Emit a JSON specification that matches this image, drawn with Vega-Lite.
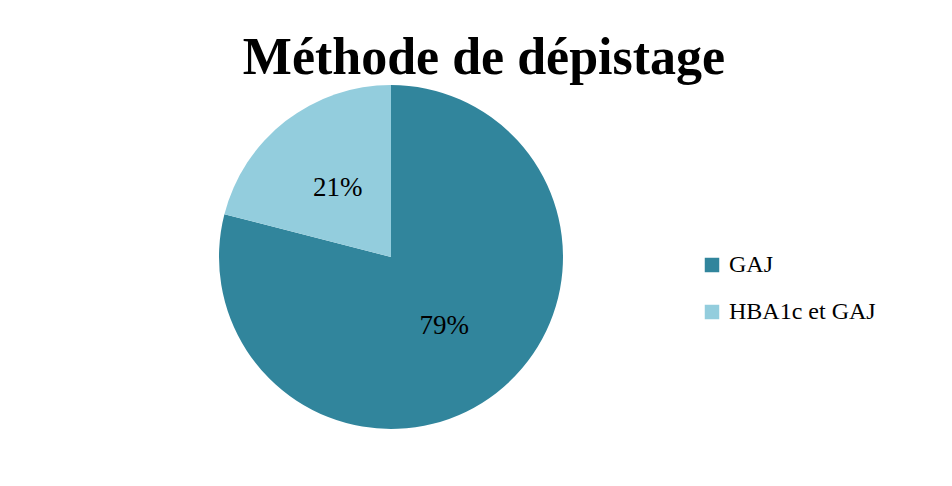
{
  "$schema": "https://vega.github.io/schema/vega-lite/v6.json",
  "autosize": "none",
  "padding": {"left": 219, "top": 85, "right": 389, "bottom": 57},
  "width": 344,
  "height": 344,
  "background": "white",
  "title": {
    "text": "Méthode de dépistage",
    "font": "Liberation Serif",
    "fontSize": 52,
    "fontWeight": "bold",
    "color": "black",
    "anchor": "middle",
    "dx": 93,
    "offset": 0
  },
  "data": {
    "values": [
      {"methode": "GAJ", "pct": 79, "label": "79%", "ordre": 1},
      {"methode": "HBA1c et GAJ", "pct": 21, "label": "21%", "ordre": 2}
    ]
  },
  "encoding": {
    "theta": {"field": "pct", "type": "quantitative", "stack": true},
    "order": {"field": "ordre", "type": "ordinal"}
  },
  "layer": [
    {
      "mark": {"type": "arc", "outerRadius": 172, "stroke": null},
      "encoding": {
        "color": {
          "field": "methode",
          "type": "nominal",
          "sort": ["GAJ", "HBA1c et GAJ"],
          "scale": {"domain": ["GAJ", "HBA1c et GAJ"], "range": ["#31859C", "#93CDDD"]},
          "legend": {
            "title": null,
            "orient": "none",
            "legendX": 481,
            "legendY": 168,
            "symbolType": "square",
            "symbolSize": 210,
            "symbolStrokeWidth": 0,
            "labelFont": "Liberation Serif",
            "labelFontSize": 24,
            "labelColor": "black",
            "labelOffset": 5,
            "rowPadding": 23,
            "labelLimit": 300
          }
        }
      }
    },
    {
      "mark": {"type": "text", "radius": 87, "font": "Liberation Serif", "fontSize": 27, "color": "black", "baseline": "middle", "align": "center"},
      "encoding": {
        "text": {"field": "label", "type": "nominal"}
      }
    }
  ],
  "config": {"view": {"stroke": null}}
}
